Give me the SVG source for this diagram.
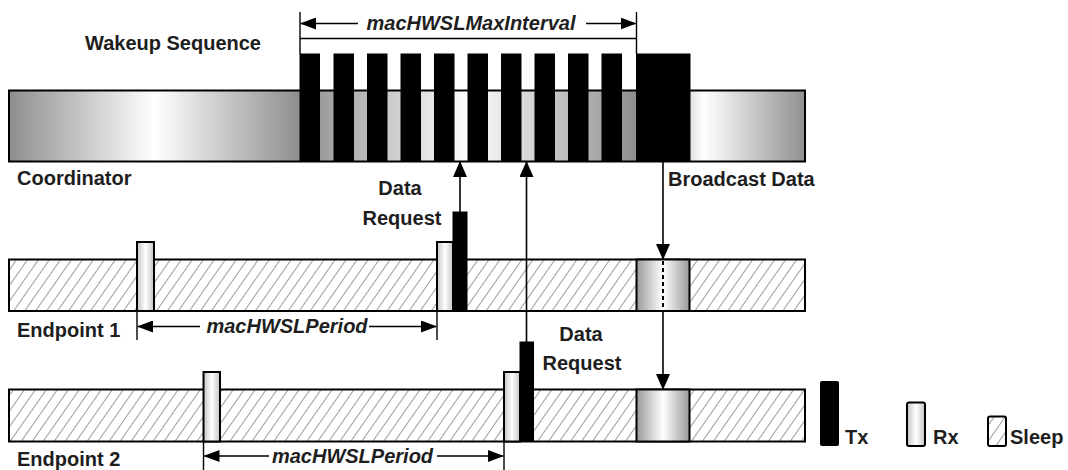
<svg xmlns="http://www.w3.org/2000/svg" width="1068" height="470" viewBox="0 0 1068 470">
<defs>
  <linearGradient id="cyl" x1="0" y1="0" x2="1" y2="0">
    <stop offset="0" stop-color="#8e8e8e"/>
    <stop offset="0.5" stop-color="#ffffff"/>
    <stop offset="1" stop-color="#8e8e8e"/>
  </linearGradient>
  <linearGradient id="cylR" x1="0" y1="0" x2="1" y2="0">
    <stop offset="0" stop-color="#e2e2e2"/>
    <stop offset="0.12" stop-color="#ffffff"/>
    <stop offset="1" stop-color="#909090"/>
  </linearGradient>
  <linearGradient id="rx" x1="0" y1="0" x2="1" y2="0">
    <stop offset="0" stop-color="#c4c4c4"/>
    <stop offset="0.5" stop-color="#ffffff"/>
    <stop offset="1" stop-color="#c4c4c4"/>
  </linearGradient>
  <linearGradient id="rxb" x1="0" y1="0" x2="1" y2="0">
    <stop offset="0" stop-color="#9a9a9a"/>
    <stop offset="0.5" stop-color="#ffffff"/>
    <stop offset="1" stop-color="#9a9a9a"/>
  </linearGradient>
  <pattern id="hatch" patternUnits="userSpaceOnUse" width="9" height="9" patternTransform="rotate(35)">
    <rect width="9" height="9" fill="#ffffff"/>
    <line x1="0" y1="0" x2="0" y2="9" stroke="#5a5a5a" stroke-width="1.2"/>
  </pattern>
  <marker id="ah" markerUnits="userSpaceOnUse" markerWidth="16" markerHeight="14" refX="15" refY="7" orient="auto">
    <path d="M0,0 L16,7 L0,14 z" fill="#000"/>
  </marker>
  <marker id="dh" markerUnits="userSpaceOnUse" markerWidth="16" markerHeight="12" refX="15" refY="6" orient="auto">
    <path d="M0,0 L16,6 L0,12 z" fill="#000"/>
  </marker>
  <style>
    .bar { fill: none; stroke: #000; stroke-width: 2; }
    .sleep { fill: url(#hatch); stroke: #000; stroke-width: 2; }
    .rx { fill: url(#rx); stroke: #000; stroke-width: 2; }
    .rxb { fill: url(#rxb); stroke: #000; stroke-width: 2; }
    .tx { fill: #000; stroke: #000; stroke-width: 1; }
    .lbl { font-family: "Liberation Sans", Arial, sans-serif; font-weight: bold; font-size: 20px; fill: #1e1e1e; }
    .dim { font-family: "Liberation Sans", Arial, sans-serif; font-weight: bold; font-style: italic; font-size: 20px; fill: #1e1e1e; text-anchor: middle; }
    .mid { text-anchor: middle; }
    .ln { stroke: #000; stroke-width: 1.6; fill: none; }
    .tick { stroke: #000; stroke-width: 1.4; fill: none; }
  </style>
</defs>

<g id="coordinator">
  <rect x="9" y="90.5" width="291" height="71" fill="url(#cyl)"/>
  <rect x="300" y="90.5" width="336" height="71" fill="url(#cyl)"/>
  <rect x="690" y="90.5" width="115" height="71" fill="url(#cylR)"/>
  <rect class="bar" x="9" y="90.5" width="796" height="71"/>
  <rect class="tx" x="300" y="54" width="19.5" height="107.5"/>
  <rect class="tx" x="334" y="54" width="19.5" height="107.5"/>
  <rect class="tx" x="367.5" y="54" width="19.5" height="107.5"/>
  <rect class="tx" x="401" y="54" width="19.5" height="107.5"/>
  <rect class="tx" x="434.5" y="54" width="19.5" height="107.5"/>
  <rect class="tx" x="468" y="54" width="19.5" height="107.5"/>
  <rect class="tx" x="501.5" y="54" width="19.5" height="107.5"/>
  <rect class="tx" x="535" y="54" width="19.5" height="107.5"/>
  <rect class="tx" x="568.5" y="54" width="19.5" height="107.5"/>
  <rect class="tx" x="602" y="54" width="19.5" height="107.5"/>
  <rect class="tx" x="636.5" y="54" width="53.5" height="107.5"/>
  <text class="lbl" x="85" y="50">Wakeup Sequence</text>
  <text class="lbl" x="17" y="185">Coordinator</text>
</g>

<g id="endpoint1">
  <rect class="sleep" x="9" y="259.5" width="796" height="51.5"/>
  <rect class="rx" x="137" y="242" width="17" height="69"/>
  <rect class="rx" x="437" y="242" width="16" height="69"/>
  <rect class="tx" x="453" y="212" width="14" height="99"/>
  <rect class="rxb" x="636.5" y="259.5" width="53" height="51.5"/>
  <text class="lbl" x="17" y="337">Endpoint 1</text>
</g>

<g id="endpoint2">
  <rect class="sleep" x="9" y="389.5" width="796" height="52"/>
  <rect class="rx" x="203.5" y="372" width="16.5" height="69.5"/>
  <rect class="rx" x="504" y="372" width="16" height="69.5"/>
  <rect class="tx" x="520" y="342" width="13.5" height="99.5"/>
  <rect class="rxb" x="636.5" y="389.5" width="53" height="52"/>
  <text class="lbl" x="17" y="466">Endpoint 2</text>
</g>

<g id="labels">
  <text class="lbl mid" x="400" y="195">Data</text>
  <text class="lbl mid" x="402" y="225">Request</text>
  <text class="lbl" x="668" y="186">Broadcast Data</text>
  <text class="lbl mid" x="581" y="341">Data</text>
  <text class="lbl mid" x="582" y="370">Request</text>
  <text class="dim" x="471" y="30">macHWSLMaxInterval</text>
  <text class="dim" x="287" y="333">macHWSLPeriod</text>
  <text class="dim" x="352.5" y="463">macHWSLPeriod</text>
</g>

<g id="connectors">
  <line class="ln" x1="460" y1="212" x2="460" y2="162" marker-end="url(#ah)"/>
  <line class="ln" x1="526.5" y1="342" x2="526.5" y2="162" marker-end="url(#ah)"/>
  <line class="ln" x1="663" y1="162" x2="663" y2="259" marker-end="url(#ah)"/>
  <line x1="663" y1="261" x2="663" y2="310" stroke="#000" stroke-width="2" stroke-dasharray="4,3"/>
  <line class="ln" x1="663" y1="311" x2="663" y2="389" marker-end="url(#ah)"/>
  <line class="tick" x1="300" y1="12" x2="300" y2="54"/>
  <line class="tick" x1="636.5" y1="12" x2="636.5" y2="54"/>
  <line class="tick" x1="300" y1="38.5" x2="636.5" y2="38.5"/>
  <line class="ln" x1="358" y1="23.5" x2="301" y2="23.5" marker-end="url(#dh)"/>
  <line class="ln" x1="586" y1="23.5" x2="635.5" y2="23.5" marker-end="url(#dh)"/>
  <line class="tick" x1="137" y1="311" x2="137" y2="340"/>
  <line class="tick" x1="437" y1="311" x2="437" y2="340"/>
  <line class="ln" x1="200" y1="326.5" x2="138" y2="326.5" marker-end="url(#dh)"/>
  <line class="ln" x1="369" y1="326.5" x2="436" y2="326.5" marker-end="url(#dh)"/>
  <line class="tick" x1="203.5" y1="441.5" x2="203.5" y2="470"/>
  <line class="tick" x1="504" y1="441.5" x2="504" y2="470"/>
  <line class="ln" x1="269" y1="456" x2="204.5" y2="456" marker-end="url(#dh)"/>
  <line class="ln" x1="437" y1="456" x2="503" y2="456" marker-end="url(#dh)"/>
</g>

<g id="legend">
  <rect x="820" y="381" width="19" height="65" rx="2" fill="#000"/>
  <text class="lbl" x="845" y="444">Tx</text>
  <rect class="rx" x="907" y="402.5" width="18" height="43.5" rx="2"/>
  <text class="lbl" x="933" y="444">Rx</text>
  <rect class="sleep" x="988" y="416.5" width="18" height="29.5" rx="2"/>
  <text class="lbl" x="1010" y="444">Sleep</text>
</g>
</svg>
